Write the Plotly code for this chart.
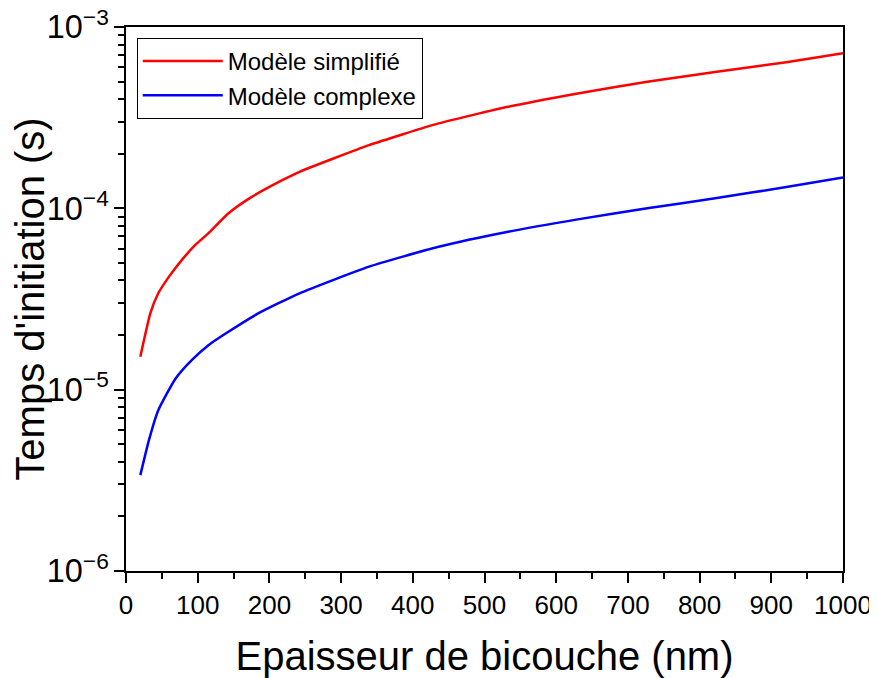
import plotly.graph_objects as go

x_simplifie = [20, 34, 45, 60, 78, 97, 115, 143, 176, 218, 242, 339, 436, 533, 630, 727, 824, 921, 1000]
t_simplifie = [1.52e-5, 2.64e-5, 3.4e-5, 4.2e-5, 5.2e-5, 6.3e-5, 7.3e-5, 9.4e-5, 1.16e-4, 1.43e-4,
               1.59e-4, 2.23e-4, 2.94e-4, 3.63e-4, 4.30e-4, 4.99e-4, 5.67e-4, 6.39e-4, 7.16e-4]
x_complexe = [20, 32, 45, 69, 92, 115, 139, 185, 242, 339, 436, 533, 630, 727, 824, 921, 1000]
t_complexe = [3.38e-6, 5.27e-6, 7.7e-6, 1.15e-5, 1.46e-5, 1.76e-5, 2.04e-5, 2.64e-5, 3.40e-5,
              4.77e-5, 6.14e-5, 7.43e-5, 8.69e-5, 1.0e-4, 1.14e-4, 1.31e-4, 1.48e-4]

series_names = ["Modèle simplifié", "Modèle complexe"]
series_colors = ["#ff0000", "#0000ff"]

x_minor_ticks = list(range(50, 1000, 100))
y_minor_ticks = [m * d for d in (1e-6, 1e-5, 1e-4) for m in range(2, 10)]

fig = go.Figure()
for name, xs, vals, col in zip(series_names, [x_simplifie, x_complexe],
                               [t_simplifie, t_complexe], series_colors):
    fig.add_trace(go.Scatter(x=xs, y=vals, mode="lines", name=name,
                             line=dict(color=col, width=2.5, shape="spline", smoothing=0.5)))
# empty trace so the minor-tick overlay axes are drawn
fig.add_trace(go.Scatter(x=[], y=[], xaxis="x2", yaxis="y2", showlegend=False, hoverinfo="skip"))

font_family = "Liberation Sans, Arial, sans-serif"
fig.update_layout(
    width=877, height=678,
    margin=dict(l=118, r=42, t=19, b=115),
    paper_bgcolor="white", plot_bgcolor="white",
    font=dict(family=font_family, color="black"),
    showlegend=True,
    legend=dict(x=0.015, y=0.98, xanchor="left", yanchor="top",
                bordercolor="black", borderwidth=1, bgcolor="white", itemwidth=80,
                font=dict(size=24, family=font_family), tracegroupgap=0),
    xaxis=dict(range=[0, 1000], tickmode="linear", tick0=0, dtick=100, ticks="outside",
               ticklen=10, tickwidth=2, tickcolor="black", showline=True, linewidth=2,
               linecolor="black", mirror=True, showgrid=False, zeroline=False,
               tickfont=dict(size=26), automargin=False, ticklabeloverflow="allow",
               title=dict(text="Epaisseur de bicouche (nm)", font=dict(size=40), standoff=23)),
    yaxis=dict(type="log", range=[-6, -3], tickmode="linear", tick0=0, dtick=1,
               exponentformat="power", showexponent="all",
               ticks="outside", ticklen=10, tickwidth=2, tickcolor="black",
               showline=True, linewidth=2, linecolor="black", mirror=True,
               showgrid=False, zeroline=False, tickfont=dict(size=26), automargin=False,
               ticklabeloverflow="allow",
               title=dict(text="Temps d'initiation (s)", font=dict(size=40), standoff=13)),
    xaxis2=dict(overlaying="x", anchor="y", side="bottom", range=[0, 1000],
                tickmode="array", tickvals=x_minor_ticks, ticks="outside", ticklen=6,
                tickwidth=2, tickcolor="black", showticklabels=False,
                showline=True, linewidth=2, linecolor="black", mirror=True,
                showgrid=False, zeroline=False, automargin=False),
    yaxis2=dict(overlaying="y", anchor="x", side="left", type="log", range=[-6, -3],
                tickmode="array", tickvals=y_minor_ticks, ticks="outside", ticklen=6,
                tickwidth=2, tickcolor="black", showticklabels=False,
                showline=True, linewidth=2, linecolor="black", mirror=True,
                showgrid=False, zeroline=False, automargin=False),
)

fig.write_html("out.html")
